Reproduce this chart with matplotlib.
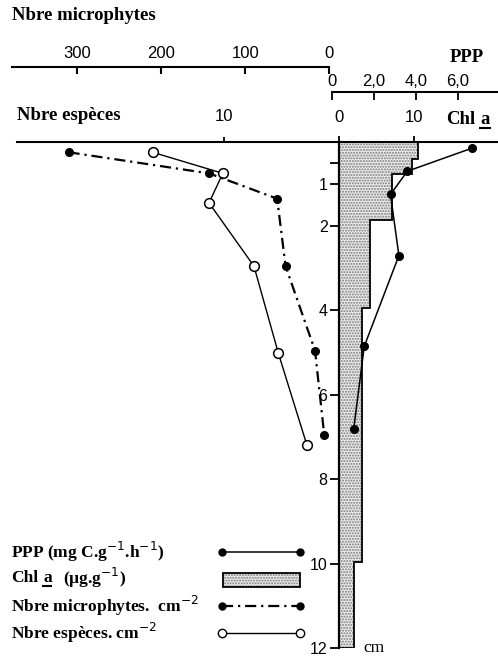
import matplotlib
matplotlib.use('Agg')
from matplotlib import pyplot as plt

# profondeur (cm) et valeurs
ppp_depth = [0.15, 0.7, 1.25, 2.7, 4.85, 6.8]
ppp = [6.7, 3.6, 2.8, 3.2, 1.55, 1.05]

micro_depth = [0.25, 0.75, 1.35, 2.95, 4.95, 6.95]
microphytes = [310, 143, 62, 52, 17, 6]

sp_depth = [0.25, 0.75, 1.45, 2.95, 5.0, 7.2]
especes = [16.2, 10.1, 11.3, 7.4, 5.3, 2.8]

chl_edges = [0, 0.4, 0.77, 1.85, 3.95, 9.95, 12]
chl = [10.5, 9.7, 7.0, 4.1, 3.1, 2.0]

depth_ticks = [1, 2, 4, 6, 8, 10, 12]
ppp_ticks = [0, 2, 4, 6]
ppp_labels = ['0', '2,0', '4,0', '6,0']
micro_ticks = [300, 200, 100, 0]
micro_labels = ['300', '200', '100', '0']

plt.rcParams['font.family'] = ['Liberation Sans', 'DejaVu Sans']
SERIF = 'Liberation Serif'

W, H = 498, 657
TOP, BOT = 141.7, 648.0   # pixel rows of depth 0 and 12
fig = plt.figure(figsize=(W / 100, H / 100), dpi=100)
rect = [0, (H - BOT) / H, 1, (BOT - TOP) / H]


def xlim_for(x0, per_unit):
    # x limits so that value 0 lands on pixel x0, per_unit px per unit
    return ((0 - x0) / per_unit, (W - x0) / per_unit)


def bare(a):
    for s in a.spines.values():
        s.set_visible(False)
    a.patch.set_visible(False)


PT = 0.72  # points per pixel

# --- Chl a + depth axis ---
ax = fig.add_axes(rect)
bare(ax)
ax.set_xlim(*xlim_for(339.3, 7.47))
ax.set_ylim(12, 0)
ax.stairs(chl, chl_edges, orientation='horizontal', baseline=0, fill=True,
          facecolor='#ececec', edgecolor='#7a7a7a', hatch='......', linewidth=0)
ax.stairs(chl, chl_edges, orientation='horizontal', baseline=0, fill=False,
          edgecolor='k', linewidth=1.3)
ax.spines['left'].set_visible(True)
ax.spines['left'].set_position(('data', 0))
ax.spines['left'].set_bounds(0, 12)
ax.spines['left'].set_linewidth(1.6)
ax.spines['top'].set_visible(True)
ax.spines['top'].set_bounds((17 - 339.3) / 7.47, (W - 339.3) / 7.47)
ax.spines['top'].set_linewidth(1.5)
ax.set_yticks(depth_ticks)
ax.set_yticks([0.5], minor=True)
ax.tick_params(axis='y', which='both', direction='out', length=9 * PT, width=1.3,
               labelsize=11.5, pad=2)
ax.xaxis.tick_top()
ax.set_xticks([0, 10])
ax.set_xticklabels(['0', '10'])
ax.tick_params(axis='x', direction='out', length=6 * PT, width=1.3, labelsize=12, pad=8)
ax.tick_params(axis='x', which='minor', top=False, bottom=False)

# --- Nbre especes ---
ax_sp = fig.add_axes(rect, sharey=ax)
bare(ax_sp)
ax_sp.set_xlim(*xlim_for(339.3, -11.53))
ax_sp.plot(especes, sp_depth, color='k', lw=1.0, marker='o', ms=7,
           mfc='white', mec='k', mew=1.1)
ax_sp.xaxis.tick_top()
ax_sp.set_xticks([10])
ax_sp.tick_params(axis='x', direction='out', length=5 * PT, width=1.3, labelsize=12, pad=9)
ax_sp.tick_params(axis='y', which='both', left=False, labelleft=False)

# --- Nbre microphytes ---
ax_mi = fig.add_axes(rect, sharey=ax)
bare(ax_mi)
ax_mi.set_xlim(*xlim_for(329.3, -0.841))
ax_mi.plot(microphytes, micro_depth, color='k', lw=1.6, dashes=(5, 2.2, 1, 2.2),
           marker='o', ms=5.5, mfc='k', mec='k')
ax_mi.spines['top'].set_visible(True)
ax_mi.spines['top'].set_position(('outward', (TOP - 66.7) * PT))
ax_mi.spines['top'].set_bounds(0, (329.3 - 12) / 0.841)
ax_mi.spines['top'].set_linewidth(1.5)
ax_mi.xaxis.tick_top()
ax_mi.set_xticks(micro_ticks)
ax_mi.set_xticklabels(micro_labels)
ax_mi.tick_params(axis='x', direction='in', length=7 * PT, width=1.5, labelsize=12, pad=4)
ax_mi.tick_params(axis='y', which='both', left=False, labelleft=False)

# --- PPP ---
ax_p = fig.add_axes(rect, sharey=ax)
bare(ax_p)
ax_p.set_xlim(*xlim_for(331.7, 21.0))
ax_p.plot(ppp, ppp_depth, color='k', lw=1.1, marker='o', ms=5.5, mfc='k', mec='k')
ax_p.spines['top'].set_visible(True)
ax_p.spines['top'].set_position(('outward', (TOP - 91.7) * PT))
ax_p.spines['top'].set_bounds(0, (W - 331.7) / 21.0)
ax_p.spines['top'].set_linewidth(1.5)
ax_p.xaxis.tick_top()
ax_p.set_xticks(ppp_ticks)
ax_p.set_xticklabels(ppp_labels)
ax_p.tick_params(axis='x', direction='in', length=8 * PT, width=1.3, labelsize=12, pad=2)
ax_p.tick_params(axis='y', which='both', left=False, labelleft=False)

# --- texts and key, in pixel coordinates ---
lx = fig.add_axes([0, 0, 1, 1])
lx.set_xlim(0, W)
lx.set_ylim(H, 0)
lx.axis('off')

bold = dict(family=SERIF, fontweight='bold', va='center', ha='left')
lx.text(12, 15, 'Nbre microphytes', fontsize=13.5, **bold)
lx.text(450, 58, 'PPP', fontsize=13.5, **bold)
lx.text(17, 115, 'Nbre espèces', fontsize=13.5, **bold)
lx.text(446, 119, 'Chl', fontsize=13.5, **bold)
lx.text(480, 119, 'a', fontsize=13.5, **bold)
lx.plot([480, 490], [127.5, 127.5], color='k', lw=1.5)
lx.text(363, 648, 'cm', family=SERIF, fontsize=12.5, va='center', ha='left')

rows = [551.7, 578, 606, 633]
kx0, kx1 = 221.7, 300
lx.text(11, rows[0], 'PPP (mg C.g$^{-1}$.h$^{-1}$)', fontsize=12.5, **bold)
lx.text(11, rows[1], 'Chl', fontsize=12.5, **bold)
lx.text(43, rows[1], 'a', fontsize=12.5, **bold)
lx.plot([43, 51], [586, 586], color='k', lw=1.5)
lx.text(63, rows[1], '(µg.g$^{-1}$)', fontsize=12.5, **bold)
lx.text(11, rows[2], 'Nbre microphytes.  cm$^{-2}$', fontsize=12.5, **bold)
lx.text(11, rows[3], 'Nbre espèces. cm$^{-2}$', fontsize=12.5, **bold)

lx.plot([kx0, kx1], [rows[0]] * 2, color='k', lw=1.1, marker='o', ms=5, mfc='k')
lx.add_patch(plt.Rectangle((223, 572.7), 76.5, 14.5, facecolor='#ececec',
                           edgecolor='#7a7a7a', hatch='......', lw=0))
lx.add_patch(plt.Rectangle((223, 572.7), 76.5, 14.5, fill=False,
                           edgecolor='k', lw=1.3))
lx.plot([kx0, kx1], [rows[2]] * 2, color='k', lw=1.6, dashes=(5, 2.2, 1, 2.2),
        marker='o', ms=5, mfc='k')
lx.plot([kx0, kx1], [rows[3]] * 2, color='k', lw=1.0, marker='o', ms=6,
        mfc='white', mec='k', mew=1.0)

fig.savefig('out.png', dpi=100)
